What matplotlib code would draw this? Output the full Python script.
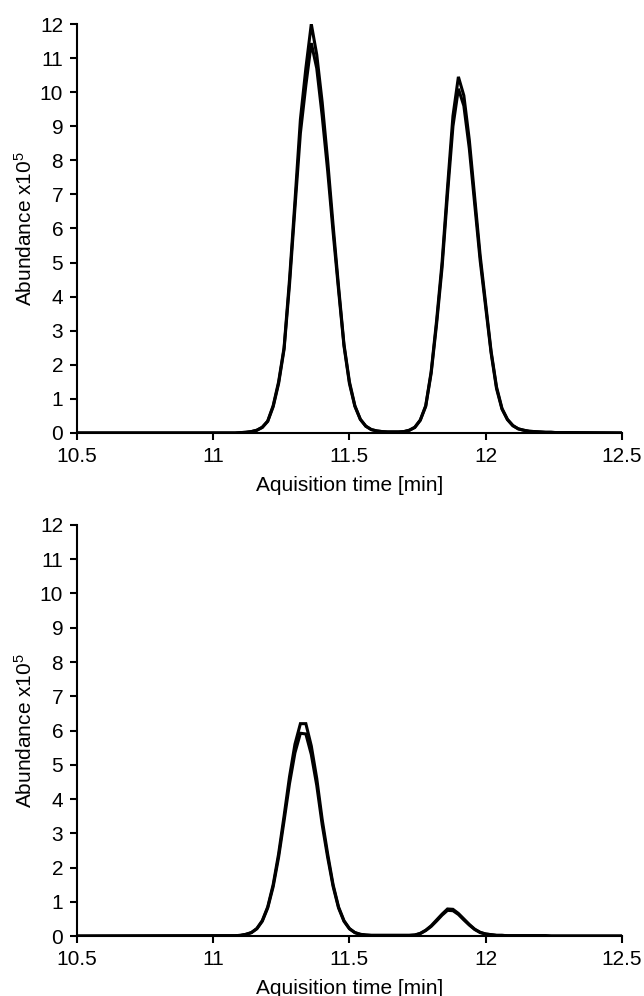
import numpy as np
import matplotlib
matplotlib.use("Agg")
import matplotlib.pyplot as plt

plt.rcParams['font.family'] = ['Liberation Sans', 'DejaVu Sans']
plt.rcParams['mathtext.default'] = 'regular'

# tiempos de adquisicion [min]
t = [10.50,
     11.08, 11.10, 11.12, 11.14, 11.16, 11.18,
     11.20, 11.22, 11.24, 11.26, 11.28, 11.30, 11.32, 11.34, 11.36, 11.38,
     11.40, 11.42, 11.44, 11.46, 11.48, 11.50, 11.52, 11.54, 11.56, 11.58,
     11.60, 11.62, 11.64, 11.66, 11.68, 11.70, 11.72, 11.74, 11.76, 11.78,
     11.80, 11.82, 11.84, 11.86, 11.88, 11.90, 11.92, 11.94, 11.96, 11.98,
     12.00, 12.02, 12.04, 12.06, 12.08, 12.10, 12.12, 12.14, 12.16, 12.18,
     12.20, 12.22, 12.24, 12.26, 12.28, 12.30,
     12.50]

# panel superior (abundancia x10^5)
top_a = [0,
         0, 0.01, 0.02, 0.04, 0.08, 0.17,
         0.35, 0.8, 1.5, 2.5, 4.5, 6.8, 9.2, 10.7, 12.0, 11.1,
         9.7, 8.0, 6.1, 4.3, 2.6, 1.5, 0.8, 0.4, 0.2, 0.1,
         0.06, 0.04, 0.03, 0.03, 0.03, 0.04, 0.08, 0.17, 0.38, 0.8,
         1.8, 3.3, 5.0, 7.2, 9.3, 10.45, 9.9, 8.6, 6.9, 5.2,
         3.8, 2.4, 1.35, 0.72, 0.4, 0.22, 0.12, 0.08, 0.05, 0.04,
         0.03, 0.02, 0.02, 0.01, 0.01, 0.01,
         0]
top_b = [0,
         0, 0.01, 0.02, 0.04, 0.08, 0.16,
         0.34, 0.77, 1.45, 2.45, 4.35, 6.6, 8.8, 10.2, 11.44, 10.7,
         9.3, 7.7, 5.9, 4.2, 2.55, 1.45, 0.78, 0.4, 0.2, 0.1,
         0.06, 0.04, 0.03, 0.03, 0.03, 0.04, 0.08, 0.16, 0.37, 0.78,
         1.75, 3.2, 4.85, 7.0, 9.0, 10.1, 9.6, 8.35, 6.7, 5.05,
         3.7, 2.35, 1.3, 0.7, 0.39, 0.21, 0.12, 0.08, 0.05, 0.04,
         0.03, 0.02, 0.02, 0.01, 0.01, 0.01,
         0]

# panel inferior
bot_a = [0,
         0.01, 0.02, 0.05, 0.1, 0.22, 0.45,
         0.85, 1.5, 2.4, 3.5, 4.65, 5.6, 6.2, 6.2, 5.55, 4.6,
         3.4, 2.4, 1.5, 0.85, 0.45, 0.22, 0.1, 0.05, 0.03, 0.02,
         0.02, 0.02, 0.02, 0.02, 0.02, 0.02, 0.02, 0.03, 0.08, 0.17,
         0.3, 0.47, 0.64, 0.79, 0.78, 0.66, 0.5, 0.34, 0.2, 0.11,
         0.06, 0.04, 0.02, 0.02, 0.01, 0.01, 0.01, 0.01, 0.01, 0.01,
         0.01, 0.01, 0, 0, 0, 0,
         0]
bot_b = [0,
         0.01, 0.02, 0.05, 0.1, 0.21, 0.43,
         0.82, 1.44, 2.3, 3.36, 4.45, 5.35, 5.92, 5.9, 5.3, 4.4,
         3.25, 2.3, 1.45, 0.82, 0.43, 0.21, 0.1, 0.05, 0.03, 0.02,
         0.02, 0.02, 0.02, 0.02, 0.02, 0.02, 0.02, 0.03, 0.07, 0.16,
         0.28, 0.44, 0.61, 0.75, 0.74, 0.63, 0.47, 0.32, 0.19, 0.1,
         0.06, 0.04, 0.02, 0.02, 0.01, 0.01, 0.01, 0.01, 0.01, 0.01,
         0.01, 0.01, 0, 0, 0, 0,
         0]

xticks = [10.5, 11, 11.5, 12, 12.5]
xticklabels = ['10.5', '11', '11.5', '12', '12.5']
yticks = list(range(0, 13))

fig = plt.figure(figsize=(6.44, 9.96), dpi=100)
ax1 = fig.add_axes([0.1196, 0.5653, 0.846, 0.4106])
ax2 = fig.add_axes([0.1196, 0.0602, 0.846, 0.4127])

for ax, a, b in [(ax1, top_a, top_b), (ax2, bot_a, bot_b)]:
    ax.plot(t, a, color='black', lw=2.2, solid_joinstyle='miter')
    ax.plot(t, b, color='black', lw=2.2, solid_joinstyle='miter')
    ax.set_xlim(10.5, 12.5)
    ax.set_ylim(0, 12)
    ax.set_xticks(xticks)
    ax.set_xticklabels(xticklabels)
    ax.set_yticks(yticks)
    ax.spines['top'].set_visible(False)
    ax.spines['right'].set_visible(False)
    ax.spines['left'].set_linewidth(1.5)
    ax.spines['bottom'].set_linewidth(1.5)
    ax.tick_params(direction='out', length=5, width=1.5, labelsize=15, pad=5)
    ax.set_xlabel('Aquisition time [min]', fontsize=15, labelpad=7)
    ax.set_ylabel('Abundance x10$^5$', fontsize=15, labelpad=3)

plt.savefig("out.png", dpi=100)
